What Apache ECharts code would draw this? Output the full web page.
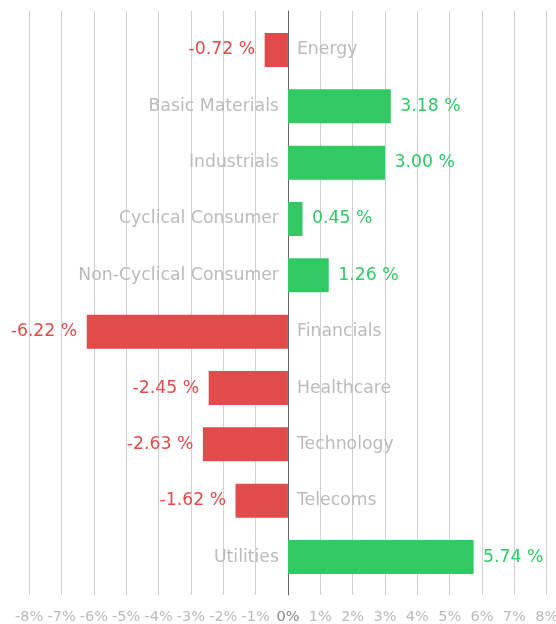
<!DOCTYPE html>
<html>
<head>
<meta charset="utf-8">
<script src="https://cdn.jsdelivr.net/npm/echarts@6/dist/echarts.min.js"></script>
<style>
  html, body { margin: 0; padding: 0; background: #fff; }
  #main { width: 556px; height: 624px; }
</style>
</head>
<body>
<div id="main"></div>
<script>
// sector performance, top to bottom
var sectors = ['Energy', 'Basic Materials', 'Industrials', 'Cyclical Consumer', 'Non-Cyclical Consumer',
               'Financials', 'Healthcare', 'Technology', 'Telecoms', 'Utilities'];
var changes = [-0.72, 3.18, 3.00, 0.45, 1.26, -6.22, -2.45, -2.63, -1.62, 5.74];

var RED = '#e14b4b';
var GREEN = '#32c864';
var FONT = 'DejaVu Sans';

var myChart = echarts.init(document.getElementById('main'));

var valueBars = changes.map(function (v) {
    var up = v >= 0;
    return {
        value: v,
        itemStyle: { color: up ? GREEN : RED },
        label: { position: up ? 'right' : 'left', color: up ? GREEN : RED }
    };
});
var nameBars = changes.map(function (v) {
    return {
        value: v,
        label: { position: v >= 0 ? 'left' : 'right' }
    };
});

var option = {
    backgroundColor: '#fff',
    animation: false,
    grid: [
        // background grid: split lines + axis labels
        { left: 29.2, right: 9.3, top: 11, bottom: 29, outerBoundsMode: 'none', containLabel: false },
        // bars
        { left: 29.2, right: 9.3, top: 21.8, bottom: 38.8, outerBoundsMode: 'none', containLabel: false }
    ],
    xAxis: [
        {
            gridIndex: 0,
            type: 'value',
            min: -8,
            max: 8,
            interval: 1,
            axisLine: { show: false },
            axisTick: { show: false },
            splitLine: { show: true, lineStyle: { color: '#d0d0d0', width: 1 } },
            axisLabel: {
                margin: 15,
                fontFamily: FONT,
                fontSize: 14.5,
                formatter: '{value}%',
                color: function (val) {
                    return Number(val) === 0 ? '#888' : '#bbb';
                }
            }
        },
        {
            gridIndex: 1,
            type: 'value',
            min: -8,
            max: 8,
            interval: 1,
            show: false
        }
    ],
    yAxis: [
        {
            gridIndex: 0,
            type: 'value',
            min: 0,
            max: 1,
            axisLabel: { show: false },
            axisTick: { show: false },
            splitLine: { show: false },
            axisLine: { show: true, onZero: true, lineStyle: { color: '#666', width: 1 } }
        },
        {
            gridIndex: 1,
            type: 'category',
            inverse: true,
            data: sectors,
            axisLine: { show: false },
            axisTick: { show: false },
            axisLabel: { show: false },
            splitLine: { show: false }
        }
    ],
    series: [
        {
            name: 'label',
            type: 'bar',
            xAxisIndex: 1,
            yAxisIndex: 1,
            barWidth: 34,
            barGap: '-100%',
            silent: true,
            itemStyle: { color: 'rgba(0,0,0,0)' },
            label: {
                show: true,
                distance: 9,
                fontFamily: FONT,
                fontSize: 17.3,
                color: '#bbb',
                formatter: function (p) { return p.name; }
            },
            data: nameBars,
            z: 3
        },
        {
            name: 'change',
            type: 'bar',
            xAxisIndex: 1,
            yAxisIndex: 1,
            barWidth: 34,
            barGap: '-100%',
            label: {
                show: true,
                distance: 9.5,
                fontFamily: FONT,
                fontSize: 17.3,
                formatter: function (p) { return p.value.toFixed(2) + ' %'; }
            },
            data: valueBars,
            z: 2
        }
    ]
};

myChart.setOption(option);
</script>
</body>
</html>
